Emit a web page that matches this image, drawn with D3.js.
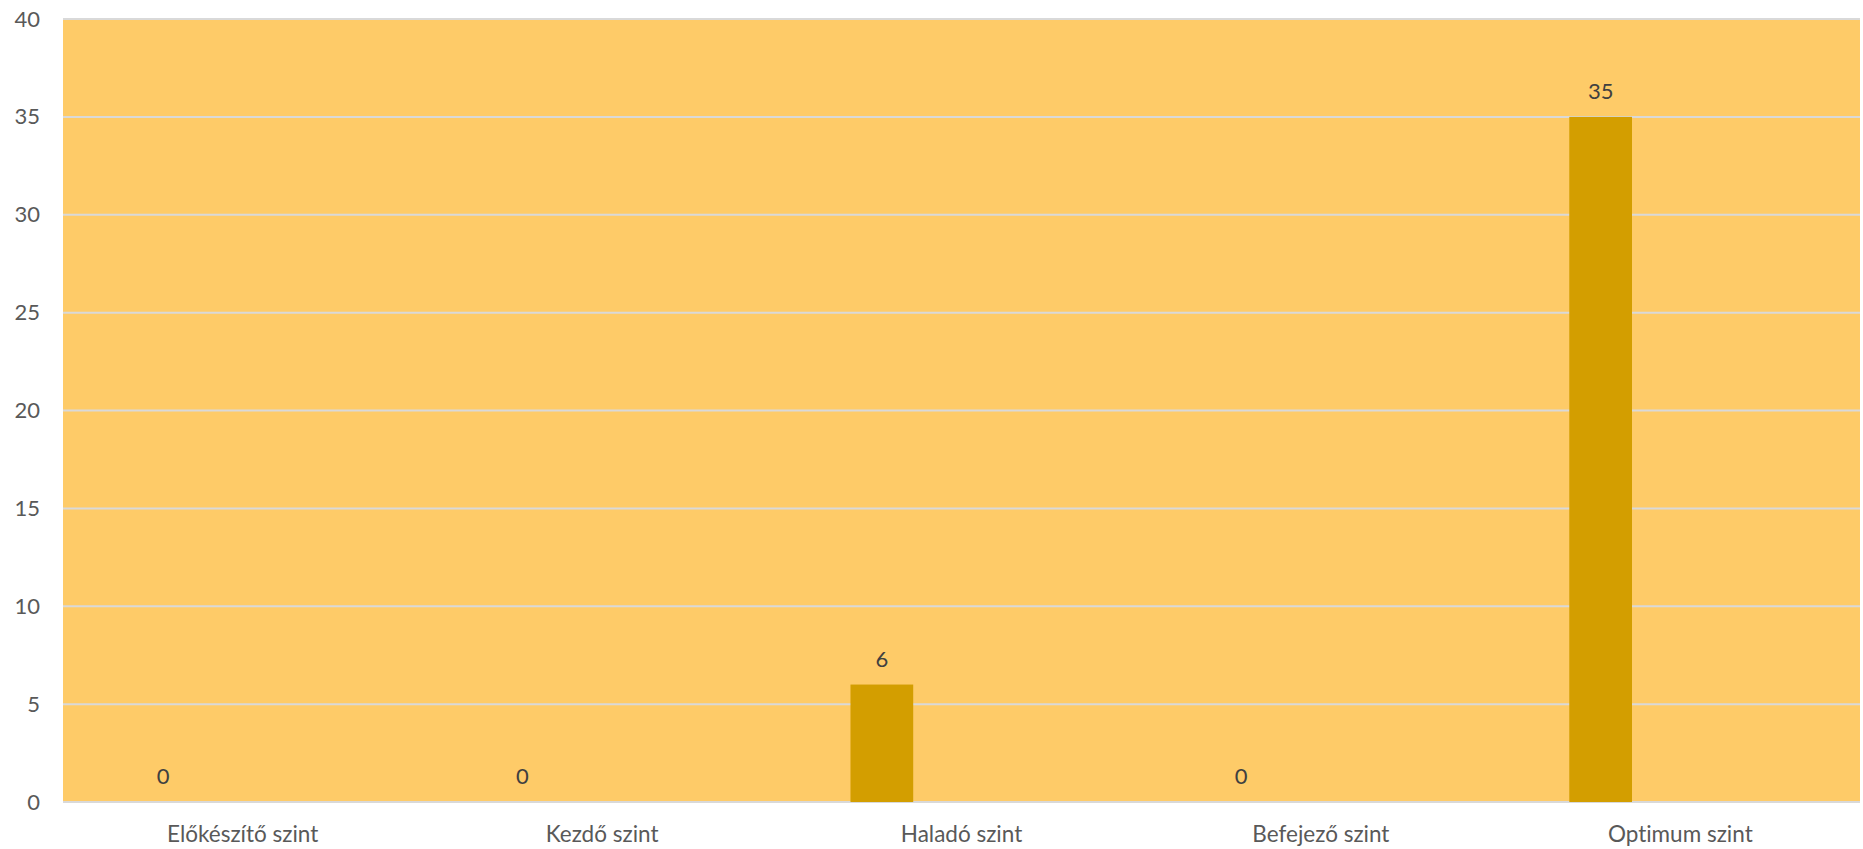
<!DOCTYPE html>
<html>
<head>
<meta charset="utf-8">
<script src="https://cdn.jsdelivr.net/npm/d3@7"></script>
<style>
  body { margin: 0; background: #fff; }
  text { font-family: Lato, "Open Sans", sans-serif; font-variant-ligatures: none; }
  .yAxis text { fill: #595959; font-size: 22px; }
  .xAxis text { fill: #595959; font-size: 22.5px; }
  .label { fill: #404040; font-size: 22px; }
</style>
</head>
<body>
<script>
var w = 1863;
var h = 849;

// chart data
var categories = ["Előkészítő szint", "Kezdő szint", "Haladó szint", "Befejező szint", "Optimum szint"];
var values = [0, 0, 6, 0, 35];
var yTicks = [0, 5, 10, 15, 20, 25, 30, 35, 40];

// plot box
var plotLeft = 63, plotRight = 1860, plotTop = 19, plotBottom = 802;

// excel style clustered columns: 3 slots, gap 219%, overlap -27%
var slots = 3, gap = 2.19, overlap = -0.27;

var xScale = d3.scaleBand()
               .domain(categories)
               .range([plotLeft, plotRight]);

var yScale = d3.scaleLinear()
               .domain([0, 40])
               .range([plotBottom, plotTop]);

var barW = xScale.bandwidth() / (slots + (slots - 1) * (-overlap) + gap);
var clusterW = barW * (slots + (slots - 1) * (-overlap));

function barX(d) {
  return xScale(d) + (xScale.bandwidth() - clusterW) / 2;
}

var svg = d3.select("body")
            .append("svg")
            .attr("width", w)
            .attr("height", h);

// plot area
svg.append("rect")
   .attr("x", plotLeft)
   .attr("y", plotTop)
   .attr("width", plotRight - plotLeft)
   .attr("height", plotBottom - plotTop)
   .attr("fill", "#FECB68");

// grid lines
svg.selectAll("gridLines")
   .data(yTicks)
   .enter()
   .append("line")
   .attr("x1", plotLeft)
   .attr("x2", plotRight)
   .attr("y1", function(d) {return yScale(d);})
   .attr("y2", function(d) {return yScale(d);})
   .attr("stroke", "#D9D9D9")
   .attr("stroke-width", 2);

// bars
svg.selectAll("bars")
   .data(values)
   .enter()
   .append("rect")
   .attr("x", function(d, i) {return barX(categories[i]);})
   .attr("y", function(d) {return yScale(d);})
   .attr("width", barW)
   .attr("height", function(d) {return yScale(0) - yScale(d);})
   .attr("fill", "#D39E00");

// data labels
svg.selectAll("labels")
   .data(values)
   .enter()
   .append("text")
   .attr("class", "label")
   .attr("x", function(d, i) {return barX(categories[i]) + barW / 2;})
   .attr("y", function(d) {return yScale(d) - 18;})
   .attr("text-anchor", "middle")
   .text(function(d) {return d;});

var yAxis = d3.axisLeft()
              .scale(yScale)
              .tickValues(yTicks)
              .tickSize(0)
              .tickPadding(23);

svg.append("g")
   .attr("class", "yAxis")
   .attr("transform", "translate(" + plotLeft + ",0)")
   .call(yAxis)
   .call(function(g) {g.select(".domain").remove();});

var xAxis = d3.axisBottom()
              .scale(xScale)
              .tickSize(0)
              .tickPadding(24);

svg.append("g")
   .attr("class", "xAxis")
   .attr("transform", "translate(0," + plotBottom + ")")
   .call(xAxis)
   .call(function(g) {g.select(".domain").remove();});
</script>
</body>
</html>
